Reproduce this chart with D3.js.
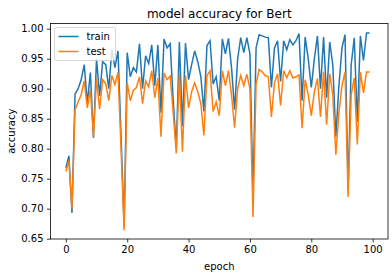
<!DOCTYPE html>
<html>
<head>
<meta charset="utf-8">
<script src="https://cdn.jsdelivr.net/npm/d3@7"></script>
<style>
  body { margin: 0; background: #fff; }
  svg { display: block; font-family: "DejaVu Sans", sans-serif; }
</style>
</head>
<body>
<svg width="392" height="278"></svg>
<script>
// Data
var train = [0.768, 0.788, 0.693, 0.891, 0.90, 0.915, 0.94, 0.876, 0.927, 0.818,
  0.95, 0.888, 0.945, 0.94, 0.90, 0.965, 0.935, 0.963, 0.82, 0.67,
  0.96, 0.92, 0.935, 0.928, 0.975, 0.90, 0.955, 0.942, 0.973, 0.905,
  0.973, 0.86, 0.983, 0.968, 0.975, 0.88, 0.80, 0.978, 0.837, 0.976,
  0.915, 0.94, 0.963, 0.945, 0.92, 0.862, 0.972, 0.98, 0.908, 0.92,
  0.88, 0.983, 0.958, 0.984, 0.935, 0.865, 0.95, 0.985, 0.96, 0.985,
  0.958, 0.72, 0.968, 0.99, 0.988, 0.986, 0.985, 0.902, 0.968, 0.98,
  0.912, 0.98, 0.965, 0.982, 0.973, 0.98, 0.992, 0.88, 0.986, 0.95,
  0.902, 0.95, 0.988, 0.90, 0.986, 0.885, 0.978, 0.94, 0.82, 0.905,
  0.968, 0.99, 0.73, 0.94, 0.985, 0.845, 0.988, 0.947, 0.993, 0.993];
var test = [0.762, 0.78, 0.70, 0.865, 0.878, 0.89, 0.913, 0.868, 0.898, 0.82,
  0.917, 0.866, 0.915, 0.908, 0.88, 0.922, 0.907, 0.927, 0.80, 0.664,
  0.91, 0.88, 0.897, 0.902, 0.92, 0.875, 0.913, 0.903, 0.93, 0.885,
  0.918, 0.82, 0.926, 0.915, 0.921, 0.86, 0.792, 0.925, 0.795, 0.922,
  0.868, 0.895, 0.91, 0.895, 0.875, 0.822, 0.922, 0.93, 0.862, 0.878,
  0.855, 0.93, 0.905, 0.93, 0.89, 0.835, 0.90, 0.922, 0.905, 0.924,
  0.90, 0.686, 0.908, 0.932, 0.928, 0.922, 0.92, 0.853, 0.91, 0.925,
  0.872, 0.93, 0.918, 0.93, 0.918, 0.92, 0.923, 0.834, 0.915, 0.89,
  0.855, 0.895, 0.917, 0.853, 0.928, 0.84, 0.925, 0.89, 0.79, 0.86,
  0.905, 0.928, 0.72, 0.89, 0.918, 0.807, 0.928, 0.893, 0.928, 0.928];
var xTicks = [0, 20, 40, 60, 80, 100];
var yTicks = [0.65, 0.70, 0.75, 0.80, 0.85, 0.90, 0.95, 1.00];

var svg = d3.select("svg");

var mLeft = 50.5, mRight = 388, mTop = 23.5, mBottom = 239;

var x = d3.scaleLinear().domain([-5, 105]).range([mLeft, mRight]);
var y = d3.scaleLinear().domain([0.6495, 1.0087]).range([mBottom, mTop]);

// axes
svg.append("g")
  .attr("transform", "translate(0," + mBottom + ")")
  .call(d3.axisBottom(x).tickValues(xTicks).tickSize(3.5).tickPadding(3.5).tickFormat(d3.format("d")))
  .call(function (g) { g.select(".domain").remove(); })
  .selectAll("text").attr("font-size", 10).attr("fill", "#000").attr("font-family", "DejaVu Sans");

svg.append("g")
  .attr("transform", "translate(" + mLeft + ",0)")
  .call(d3.axisLeft(y).tickValues(yTicks).tickSize(3.5).tickPadding(3.5).tickFormat(d3.format(".2f")))
  .call(function (g) { g.select(".domain").remove(); })
  .selectAll("text").attr("font-size", 10).attr("fill", "#000").attr("font-family", "DejaVu Sans");

svg.selectAll(".tick line").attr("stroke", "#000").attr("stroke-width", 0.8);

// lines
var line = d3.line()
  .x(function (d, i) { return x(i); })
  .y(function (d) { return y(d); });

svg.append("path").datum(train)
  .attr("d", line).attr("fill", "none")
  .attr("stroke", "#1f77b4").attr("stroke-width", 1.5);

svg.append("path").datum(test)
  .attr("d", line).attr("fill", "none")
  .attr("stroke", "#ff7f0e").attr("stroke-width", 1.5);

// frame
svg.append("rect")
  .attr("x", mLeft).attr("y", mTop)
  .attr("width", mRight - mLeft).attr("height", mBottom - mTop)
  .attr("fill", "none").attr("stroke", "#000").attr("stroke-width", 0.8);

// title and labels
svg.append("text")
  .attr("x", (mLeft + mRight) / 2).attr("y", mTop - 6)
  .attr("text-anchor", "middle").attr("font-size", 12)
  .text("model accuracy for Bert");

svg.append("text")
  .attr("x", (mLeft + mRight) / 2).attr("y", 270)
  .attr("text-anchor", "middle").attr("font-size", 10)
  .text("epoch");

svg.append("text")
  .attr("transform", "translate(15," + (mTop + mBottom) / 2 + ") rotate(-90)")
  .attr("text-anchor", "middle").attr("font-size", 10)
  .text("accuracy");

// legend
var legend = svg.append("g").attr("transform", "translate(" + (mLeft + 4) + "," + (mTop + 4) + ")");
legend.append("rect")
  .attr("width", 61).attr("height", 33).attr("rx", 2)
  .attr("fill", "#fff").attr("fill-opacity", 0.8)
  .attr("stroke", "#ccc").attr("stroke-width", 0.8);
var names = ["train", "test"];
var colors = ["#1f77b4", "#ff7f0e"];
names.forEach(function (n, i) {
  var ly = 9 + i * 15;
  legend.append("line")
    .attr("x1", 4).attr("x2", 24).attr("y1", ly).attr("y2", ly)
    .attr("stroke", colors[i]).attr("stroke-width", 1.5);
  legend.append("text")
    .attr("x", 32).attr("y", ly + 3.5).attr("font-size", 10)
    .text(n);
});
</script>
</body>
</html>
